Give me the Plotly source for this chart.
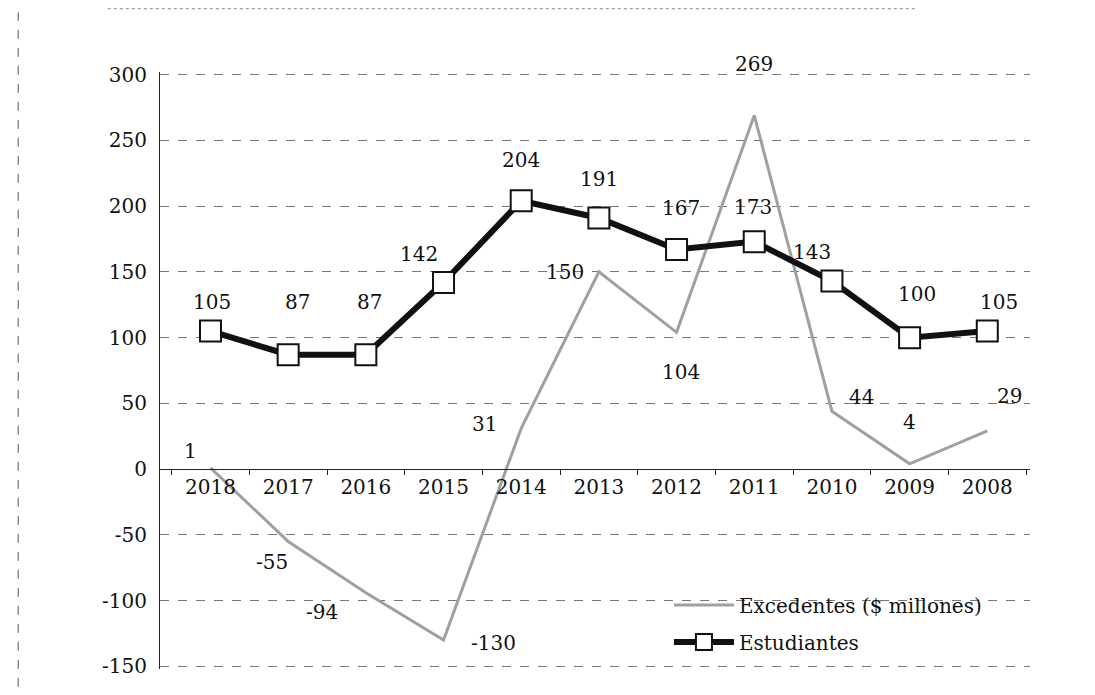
import plotly.graph_objects as go

years = ["2018", "2017", "2016", "2015", "2014", "2013", "2012", "2011", "2010", "2009", "2008"]
excedentes = [1, -55, -94, -130, 31, 150, 104, 269, 44, 4, 29]
estudiantes = [105, 87, 87, 142, 204, 191, 167, 173, 143, 100, 105]
y_ticks = [-150, -100, -50, 0, 50, 100, 150, 200, 250, 300]
y_tick_text = ["-150", "-100", "-50", "0", "50", "100", "150", "200", "250", "300"]

# label offsets (pixels) to mimic the reference label placement
exc_off = [(-20, -17), (-16, 21), (-44, 19), (50, 3), (-37, -4), (-34, 0),
           (4, 40), (0, -51), (30, -14), (0, -42), (22, -35)]
est_off = [(2, -29), (9, -53), (4, -53), (-25, -28), (0, -41), (0, -39),
           (4, -42), (-1, -35), (-20, -29), (7, -44), (12, -29)]

FONT = "DejaVu Serif"
Y_LO, Y_HI = -152, 302

fig = go.Figure()
fig.add_trace(go.Scatter(
    x=years, y=excedentes, mode="lines", name="Excedentes ($ millones)",
    legendgroup="exc",
    line=dict(color="#a0a0a0", width=3),
))
fig.add_trace(go.Scatter(
    x=years, y=estudiantes, mode="lines+markers", name="Estudiantes",
    legendgroup="est",
    line=dict(color="#111111", width=6),
    marker=dict(symbol="square", size=21, color="white", line=dict(color="#111111", width=2)),
))

annotations = []
for i, (v, (dx, dy)) in enumerate(zip(excedentes, exc_off)):
    annotations.append(dict(x=i, y=v, xref="x", yref="y", text=str(v), showarrow=False,
                            xshift=dx, yshift=-dy, font=dict(family=FONT, size=20, color="#111")))
for i, (v, (dx, dy)) in enumerate(zip(estudiantes, est_off)):
    annotations.append(dict(x=i, y=v, xref="x", yref="y", text=str(v), showarrow=False,
                            xshift=dx, yshift=-dy, font=dict(family=FONT, size=20, color="#111")))

fig.update_layout(
    width=1095, height=695,
    margin=dict(l=152, r=73, t=64, b=34),
    paper_bgcolor="white", plot_bgcolor="white",
    font=dict(family=FONT, size=20, color="#111"),
    annotations=annotations,
    showlegend=True,
    legend=dict(x=0.585, y=0.14, xanchor="left", yanchor="top",
                bgcolor="rgba(0,0,0,0)", font=dict(family=FONT, size=20, color="#111"),
                tracegroupgap=8, itemwidth=60),
    xaxis=dict(
        type="category", range=[-0.65, 10.55],
        anchor="free", position=(0 - Y_LO) / (Y_HI - Y_LO),
        showgrid=False, showline=True, linecolor="#222", linewidth=1,
        ticks="outside", ticklen=5, tickcolor="#222", tickson="boundaries",
        tickfont=dict(family=FONT, size=20),
    ),
    yaxis=dict(
        range=[Y_LO, Y_HI], tickvals=y_ticks, ticktext=y_tick_text,
        showgrid=True, gridcolor="#777", gridwidth=1, griddash="dash",
        showline=True, linecolor="#222", linewidth=1,
        zeroline=False, ticks="", ticklen=0, ticklabelstandoff=8,
        tickfont=dict(family=FONT, size=20),
    ),
    shapes=[
        dict(type="line", xref="paper", yref="paper", x0=-0.163, x1=-0.163, y0=-0.06, y1=1.1,
             line=dict(color="#555", width=1, dash="dash")),
        dict(type="line", xref="paper", yref="paper", x0=-0.06, x1=0.87, y0=1.106, y1=1.106,
             line=dict(color="#888", width=1, dash="dot")),
    ],
)

fig.write_html("out.html")
